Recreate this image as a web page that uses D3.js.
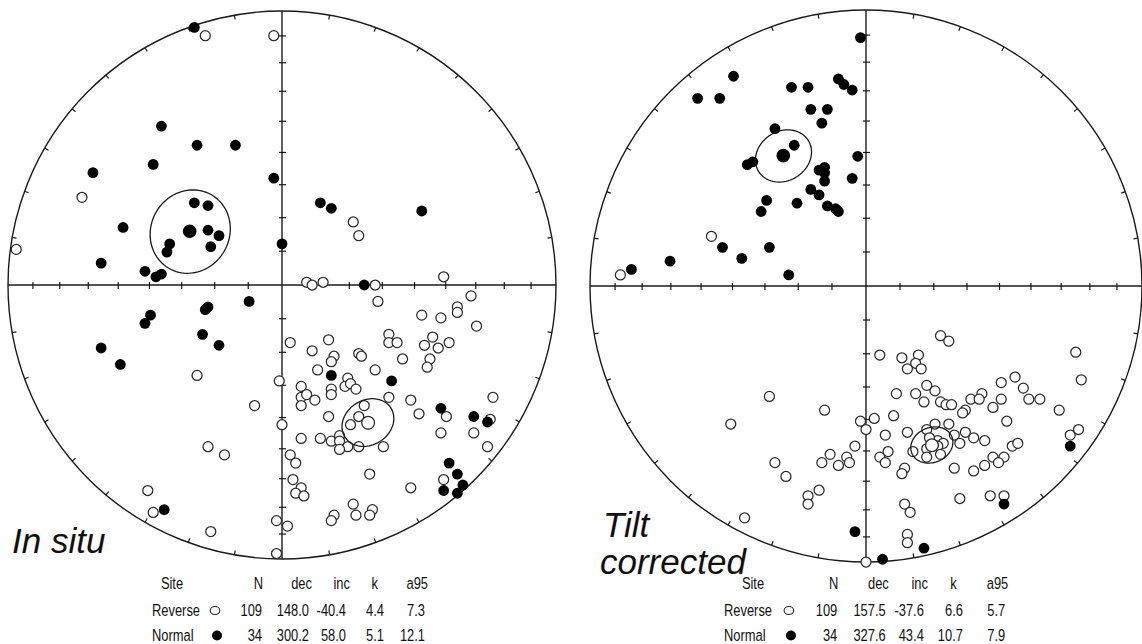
<!DOCTYPE html>
<html>
<head>
<meta charset="utf-8">
<script src="https://cdn.jsdelivr.net/npm/d3@7/dist/d3.min.js"></script>
<style>
    body { margin: 0; background: #fff; }
    svg { display: block; }
    text { font-family: "Liberation Sans", Arial, sans-serif; fill: #111; }
</style>
</head>
<body>
<div id="chart"></div>
<script>
// site directions, equal-area projected: [east, north] in % of net radius
const inSituReverse = [
    [-28, 91], [-3, 91], [-73, 32], [-97, 13], [26, 23], [28, 18], [9, 1], [11, 0], [15, 1], [34, 0], [59, 3],
    [-31, -33], [-1, -35], [-10, -44], [0, -51], [-27, -59], [-21, -62], [3, -62], [3, -21], [4, -71], [-49, -75],
    [-47, -83], [-2, -86], [2, -88], [-26, -90], [-2, -98],
    [35, -6], [69, -4], [51, -11], [58, -12], [64, -8], [64, -10], [71, -15], [17, -20], [11, -24], [39, -18],
    [39, -21], [42, -21], [55, -19], [52, -22], [57, -23], [61, -21], [19, -26], [18, -28], [28, -25], [29, -26],
    [44, -27], [54, -27], [53, -30], [13, -31], [34, -31], [24, -34], [23, -37], [25, -36], [27, -38], [18, -38],
    [18, -40], [7, -37], [7, -41], [9, -40], [12, -42], [7, -44], [39, -41], [47, -42], [30, -44], [50, -47],
    [60, -48], [77, -41], [76, -49], [70, -54], [58, -54], [17, -48], [28, -48], [25, -51], [7, -56], [14, -56],
    [18, -57], [21, -55], [21, -57], [24, -59], [21, -60], [28, -59], [37, -59], [75, -59], [5, -65], [59, -71],
    [47, -74], [32, -69], [7, -74], [5, -76], [8, -77], [26, -80], [33, -82], [27, -84], [32, -84], [19, -84], [18, -86]
];
const inSituNormal = [
    [-32, 94], [-44, 58], [-31, 51], [-17, 51], [-47, 44], [-69, 41], [-3, 39], [-32, 30], [-27, 29], [-58, 21],
    [-27, 20], [-23, 18], [-41, 15], [-26, 14], [0, 15], [-42, 12], [-66, 8], [-50, 5], [-46, 3], [-44, 4],
    [14, 30], [18, 28], [51, 27], [30, 0],
    [-12, -6], [-27, -8], [-28, -9], [-48, -11], [-50, -14], [-29, -18], [-23, -22], [-66, -23], [-59, -29], [-43, -82],
    [18, -33], [40, -35], [58, -45], [70, -48], [75, -50], [61, -65], [64, -69], [66, -73], [59, -75], [64, -76]
];
const tiltReverse = [
    [-56, 18], [-89, 4], [-35, -40], [-49, -50], [-15, -45], [-2, -49], [0, -52], [-4, -58], [-13, -61], [-16, -64],
    [-10, -65], [-7, -62], [-6, -64], [-33, -64], [-29, -69], [-17, -74], [-21, -76], [-21, -79], [-44, -84], [0, -100],
    [27, -18], [30, -20], [5, -25], [13, -26], [19, -25], [18, -28], [15, -30], [20, -30], [76, -24], [78, -34],
    [54, -33], [49, -35], [57, -37], [22, -36], [25, -38], [11, -39], [18, -39], [21, -42], [42, -39], [38, -41],
    [41, -41], [59, -41], [63, -41], [49, -41], [27, -42], [29, -43], [31, -43], [46, -44], [70, -45], [36, -45],
    [35, -46], [10, -47], [3, -48], [51, -49], [30, -50], [25, -50], [22, -52], [15, -53], [7, -54], [32, -54],
    [36, -53], [39, -55], [43, -56], [34, -57], [26, -56], [23, -55], [28, -57], [22, -59], [26, -58], [17, -60],
    [8, -60], [5, -62], [7, -64], [22, -62], [27, -61], [53, -58], [55, -57], [74, -54], [77, -52], [46, -62],
    [50, -62], [48, -64], [43, -65], [39, -67], [32, -66], [14, -66], [13, -68], [34, -77], [45, -76], [50, -76],
    [14, -79], [16, -82], [15, -90], [15, -93]
];
const tiltNormal = [
    [-2, 90], [-48, 76], [-61, 68], [-53, 68], [-27, 72], [-21, 72], [-10, 75], [-8, 73], [-5, 71], [-20, 64],
    [-14, 64], [-16, 59], [-33, 57], [-26, 51], [-43, 44], [-41, 45], [-3, 47], [-15, 43], [-17, 42], [-15, 41],
    [-15, 38], [-5, 39], [-20, 35], [-17, 33], [-36, 31], [-38, 27], [-25, 30], [-14, 29], [-11, 28], [-10, 27],
    [-52, 14], [-35, 14], [-71, 9], [-45, 10], [-85, 6], [-28, 4],
    [-4, -89], [74, -58], [50, -79], [21, -95], [6, -99]
];

// Fisher means
const statHeader = ['Site', 'N', 'dec', 'inc', 'k', 'a95'];
const inSituStats = [
    { site: 'Reverse', n: 109, dec: 148.0, inc: -40.4, k: 4.4, a95: 7.3 },
    { site: 'Normal', n: 34, dec: 300.2, inc: 58.0, k: 5.1, a95: 12.1 }
];
const tiltStats = [
    { site: 'Reverse', n: 109, dec: 157.5, inc: -37.6, k: 6.6, a95: 5.7 },
    { site: 'Normal', n: 34, dec: 327.6, inc: 43.4, k: 10.7, a95: 7.9 }
];
const incTicks = [10, 20, 30, 40, 50, 60, 70, 80];

const width = 1142, height = 644;
const rad = Math.PI / 180;

const svg = d3.select('#chart').append('svg')
    .attr('width', width)
    .attr('height', height);

// equal-area (Schmidt) radius in % of the net
function project(dec, inc) {
    const r = 100 * Math.SQRT2 * Math.sin((90 - Math.abs(inc)) / 2 * rad);
    return [r * Math.sin(dec * rad), r * Math.cos(dec * rad)];
}

// small circle of radius a95 round the mean, projected
function cone(dec, inc, a95) {
    const d = dec * rad, i = inc * rad, a = a95 * rad;
    const m = [Math.cos(i) * Math.cos(d), Math.cos(i) * Math.sin(d), Math.sin(i)];
    const u = [-Math.sin(i) * Math.cos(d), -Math.sin(i) * Math.sin(d), Math.cos(i)];
    const v = [-Math.sin(d), Math.cos(d), 0];
    return d3.range(0, 361, 4).map(function(t) {
        const tt = t * rad;
        const p = m.map(function(mi, j) {
            return Math.cos(a) * mi + Math.sin(a) * (Math.cos(tt) * u[j] + Math.sin(tt) * v[j]);
        });
        return project(Math.atan2(p[1], p[0]) / rad, Math.asin(p[2]) / rad);
    });
}

function drawNet(cx, cy, R, reverse, normal, stats) {
    const x = d3.scaleLinear().domain([-100, 100]).range([cx - R, cx + R]);
    const y = d3.scaleLinear().domain([-100, 100]).range([cy + R, cy - R]);
    const g = svg.append('g');
    const ink = '#1a1a1a';

    g.append('circle')
        .attr('cx', x(0)).attr('cy', y(0)).attr('r', x(100) - x(0))
        .attr('fill', 'none').attr('stroke', ink).attr('stroke-width', 1.4);

    g.append('line')
        .attr('x1', x(-100)).attr('x2', x(100)).attr('y1', y(0)).attr('y2', y(0))
        .attr('stroke', ink).attr('stroke-width', 1.4);
    g.append('line')
        .attr('x1', x(0)).attr('x2', x(0)).attr('y1', y(100)).attr('y2', y(-100))
        .attr('stroke', ink).attr('stroke-width', 1.4);

    // rim ticks every 10 degrees of declination
    const rim = d3.range(10, 360, 10).filter(function(a) { return a % 90 != 0; });
    g.selectAll('.rim').data(rim).enter().append('line')
        .attr('class', 'rim')
        .attr('x1', function(a) { return x(100 * Math.sin(a * rad)); })
        .attr('y1', function(a) { return y(100 * Math.cos(a * rad)); })
        .attr('x2', function(a) { return x(98.4 * Math.sin(a * rad)); })
        .attr('y2', function(a) { return y(98.4 * Math.cos(a * rad)); })
        .attr('stroke', ink).attr('stroke-width', 1.2);

    // inclination ticks along both axes
    const tickR = [];
    incTicks.forEach(function(inc) {
        const r = project(0, inc)[1];
        tickR.push(r, -r);
    });
    g.selectAll('.htick').data(tickR).enter().append('line')
        .attr('class', 'htick')
        .attr('x1', function(r) { return x(r); }).attr('x2', function(r) { return x(r); })
        .attr('y1', y(0) - 3).attr('y2', y(0) + 4)
        .attr('stroke', ink).attr('stroke-width', 1.2);
    g.selectAll('.vtick').data(tickR).enter().append('line')
        .attr('class', 'vtick')
        .attr('y1', function(r) { return y(r); }).attr('y2', function(r) { return y(r); })
        .attr('x1', x(0) - 3).attr('x2', x(0) + 4)
        .attr('stroke', ink).attr('stroke-width', 1.2);

    g.selectAll('.rev').data(reverse).enter().append('circle')
        .attr('class', 'rev')
        .attr('cx', function(d) { return x(d[0]); })
        .attr('cy', function(d) { return y(d[1]); })
        .attr('r', 5)
        .attr('fill', '#fff').attr('stroke', '#2a2a2a').attr('stroke-width', 1.25);

    g.selectAll('.nor').data(normal).enter().append('circle')
        .attr('class', 'nor')
        .attr('cx', function(d) { return x(d[0]); })
        .attr('cy', function(d) { return y(d[1]); })
        .attr('r', 5.4)
        .attr('fill', '#000');

    const line = d3.line()
        .x(function(d) { return x(d[0]); })
        .y(function(d) { return y(d[1]); });

    stats.forEach(function(s) {
        g.append('path')
            .attr('d', line(cone(s.dec, s.inc, s.a95)))
            .attr('fill', 'none').attr('stroke', ink).attr('stroke-width', 1.3);
        const p = project(s.dec, s.inc);
        g.append('circle')
            .attr('cx', x(p[0])).attr('cy', y(p[1]))
            .attr('r', s.inc < 0 ? 6.4 : 6.8)
            .attr('fill', s.inc < 0 ? '#fff' : '#000')
            .attr('stroke', s.inc < 0 ? '#2a2a2a' : 'none')
            .attr('stroke-width', 1.3);
    });
}

// the table type is a narrow sans: squeeze it horizontally
function label(g, x, y, str, anchor) {
    g.append('text')
        .attr('transform', 'translate(' + x + ',' + y + ') scale(0.76,1)')
        .attr('text-anchor', anchor || 'start')
        .style('font-size', '17px')
        .text(str);
}

function drawTable(left, stretch, siteX, stats) {
    const g = svg.append('g').attr('transform', 'translate(' + left + ',0)');
    const rowY = [589, 615.5, 641];
    const headEnd = [null, 111, 160, 198, 226, 276];
    const valEnd = [null, 110, 157, 194, 232, 273];

    label(g, siteX, rowY[0], statHeader[0], 'middle');
    statHeader.slice(1).forEach(function(h, i) {
        label(g, headEnd[i + 1] * stretch, rowY[0], h, 'end');
    });

    stats.forEach(function(s, r) {
        const yy = rowY[r + 1];
        label(g, 0, yy, s.site);
        if (s.inc < 0) {
            g.append('ellipse').attr('cx', 63 * stretch).attr('cy', yy - 5).attr('rx', 4.8).attr('ry', 4)
                .attr('fill', '#fff').attr('stroke', '#222').attr('stroke-width', 1.1);
        } else {
            g.append('ellipse').attr('cx', 65 * stretch).attr('cy', yy - 5.5).attr('rx', 5).attr('ry', 5)
                .attr('fill', '#000');
        }
        const vals = [s.n, s.dec.toFixed(1), s.inc.toFixed(1), s.k.toFixed(1), s.a95.toFixed(1)];
        vals.forEach(function(v, i) {
            label(g, valEnd[i + 1] * stretch, yy, v, 'end');
        });
    });
}

drawNet(282, 285, 274, inSituReverse, inSituNormal, inSituStats);
drawNet(866, 286, 276, tiltReverse, tiltNormal, tiltStats);

drawTable(152, 1, 20, inSituStats);
drawTable(724, 1.03, 29, tiltStats);

svg.append('text')
    .attr('x', 12).attr('y', 553)
    .style('font-size', '35px').style('font-style', 'italic')
    .text('In situ');
svg.append('text')
    .attr('x', 603).attr('y', 537)
    .style('font-size', '35px').style('font-style', 'italic')
    .text('Tilt');
svg.append('text')
    .attr('x', 600).attr('y', 574)
    .style('font-size', '35px').style('font-style', 'italic')
    .text('corrected');
</script>
</body>
</html>
